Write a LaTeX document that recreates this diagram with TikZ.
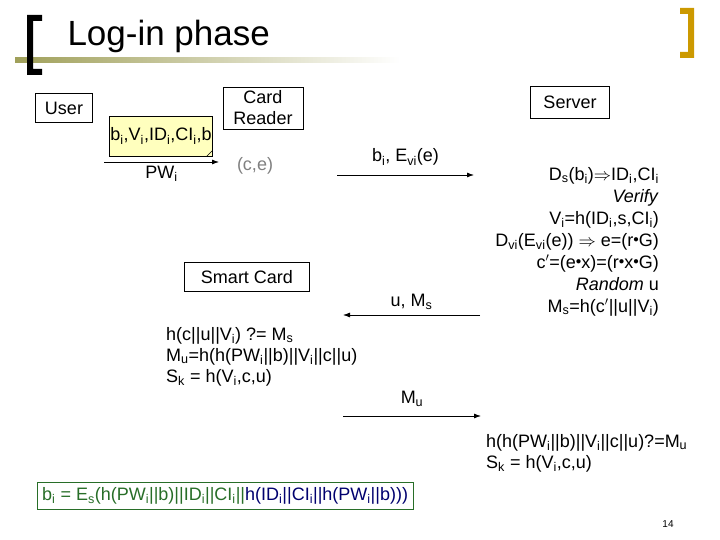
\documentclass[tikz,border=0pt]{standalone}
\usepackage{fontspec}
\setmainfont{Liberation Sans}
\usetikzlibrary{positioning,calc,arrows.meta,shapes}
\definecolor{notefill}{RGB}{255,255,190}
\definecolor{olivebar}{RGB}{160,160,90}
\definecolor{gold}{RGB}{204,153,0}
\definecolor{boxgreen}{RGB}{40,110,40}
\definecolor{textnavy}{RGB}{0,0,110}
\newcommand{\dotop}{\raisebox{0.35ex}{\fontsize{11}{11}\selectfont$\bullet$}}

\tikzset{
  party/.style={draw, inner sep=4pt, font=\fontsize{18}{21}\selectfont},
  msg/.style={thick, -{Latex[length=7pt,width=5pt]}},
  lbl/.style={font=\fontsize{18}{21}\selectfont, inner sep=1pt},
}

\begin{document}
\begin{tikzpicture}[x=1pt, y=-1pt]
    \useasboundingbox (0,0) rectangle (720,540);

    % title and brackets
    \shade[left color=olivebar, right color=white] (15,58) rectangle (400,63);
    \fill[black] (27,15) rectangle (33,75) (27,15) rectangle (42,21) (27,69) rectangle (42,75);
    \fill[gold] (688,8) rectangle (694,58) (680,8) rectangle (694,14) (680,52) rectangle (694,58);
    \node[anchor=west, font=\fontsize{35}{38}\selectfont] (title) at (64,36) {Log-in phase};

    % parties
    \node[party, minimum width=57pt, minimum height=29pt] (user) at (64,108) {User};
    \node[party, align=center, minimum width=80pt] (reader) at (263,108) {Card\\Reader};
    \node[party, minimum width=79pt, minimum height=32pt] (server) at (570,102) {Server};
    \node[party, minimum width=125pt, minimum height=29pt] (card) at (247,277) {Smart Card};

    % stored data note
    \node[draw, fill=notefill, lbl, minimum width=102pt, minimum height=40pt] (note) at (161,136)
      {b$_\mathrm{i}$,V$_\mathrm{i}$,ID$_\mathrm{i}$,CI$_\mathrm{i}$,b};
    \draw (note.south east) ++(-6,0) -- ++(6,-6);

    % messages
    \coordinate (pwA) at (104,162);
    \coordinate (pwB) at (219,162);
    \draw[msg] (pwA) -- (pwB) node[lbl, midway, below=3pt] {PW$_\mathrm{i}$};
    \node[lbl, text=gray] (ce) at (255,166) {(c,e)};

    \coordinate (m1A) at (337,175);
    \coordinate (m1B) at (474,175);
    \draw[msg] (m1A) -- (m1B) node[lbl, midway, above=8pt] {b$_\mathrm{i}$, E$_\mathrm{vi}$(e)};

    \coordinate (m2A) at (480,315);
    \coordinate (m2B) at (343,315);
    \draw[msg] (m2A) -- (m2B) node[lbl, midway, above=4pt] {u, M$_\mathrm{s}$};

    \coordinate (m3A) at (343,416);
    \coordinate (m3B) at (481,416);
    \draw[msg] (m3A) -- (m3B) node[lbl, midway, above=8pt] {M$_\mathrm{u}$};

    % server side
    \node[lbl, align=right, anchor=north east, font=\fontsize{18}{22}\selectfont] (srvtext) at (660,166)
      {D$_\mathrm{s}$(b$_\mathrm{i}$)$\Rightarrow$ID$_\mathrm{i}$,CI$_\mathrm{i}$\\
       \textit{Verify}\\
       V$_\mathrm{i}$=h(ID$_\mathrm{i}$,s,CI$_\mathrm{i}$)\\
       D$_\mathrm{vi}$(E$_\mathrm{vi}$(e)) $\Rightarrow$ e=(r\dotop G)\\
       c$'$=(e\dotop x)=(r\dotop x\dotop G)\\
       \textit{Random} u\\
       M$_\mathrm{s}$=h(c$'$||u||V$_\mathrm{i}$)};

    % card side
    \node[lbl, align=left, anchor=north west, font=\fontsize{18}{21}\selectfont] (cardtext) at (165,326)
      {h(c||u||V$_\mathrm{i}$) ?= M$_\mathrm{s}$\\
       M$_\mathrm{u}$=h(h(PW$_\mathrm{i}$||b)||V$_\mathrm{i}$||c||u)\\
       S$_\mathrm{k}$ = h(V$_\mathrm{i}$,c,u)};

    \node[lbl, align=left, anchor=north west, font=\fontsize{18}{21}\selectfont] (srvcheck) at (485,433)
      {h(h(PW$_\mathrm{i}$||b)||V$_\mathrm{i}$||c||u)?=M$_\mathrm{u}$\\
       S$_\mathrm{k}$ = h(V$_\mathrm{i}$,c,u)};

    % registration value
    \node[draw=boxgreen, lbl, inner sep=5pt, anchor=west] (bi) at (37,496)
      {\textcolor{boxgreen}{b$_\mathrm{i}$ = E$_\mathrm{s}$(h(PW$_\mathrm{i}$||b)||ID$_\mathrm{i}$||CI$_\mathrm{i}$||}\textcolor{textnavy}{h(ID$_\mathrm{i}$||CI$_\mathrm{i}$||h(PW$_\mathrm{i}$||b)))}};

    \node[font=\fontsize{10}{12}\selectfont] (page) at (668,524) {14};

\end{tikzpicture}
\end{document}
